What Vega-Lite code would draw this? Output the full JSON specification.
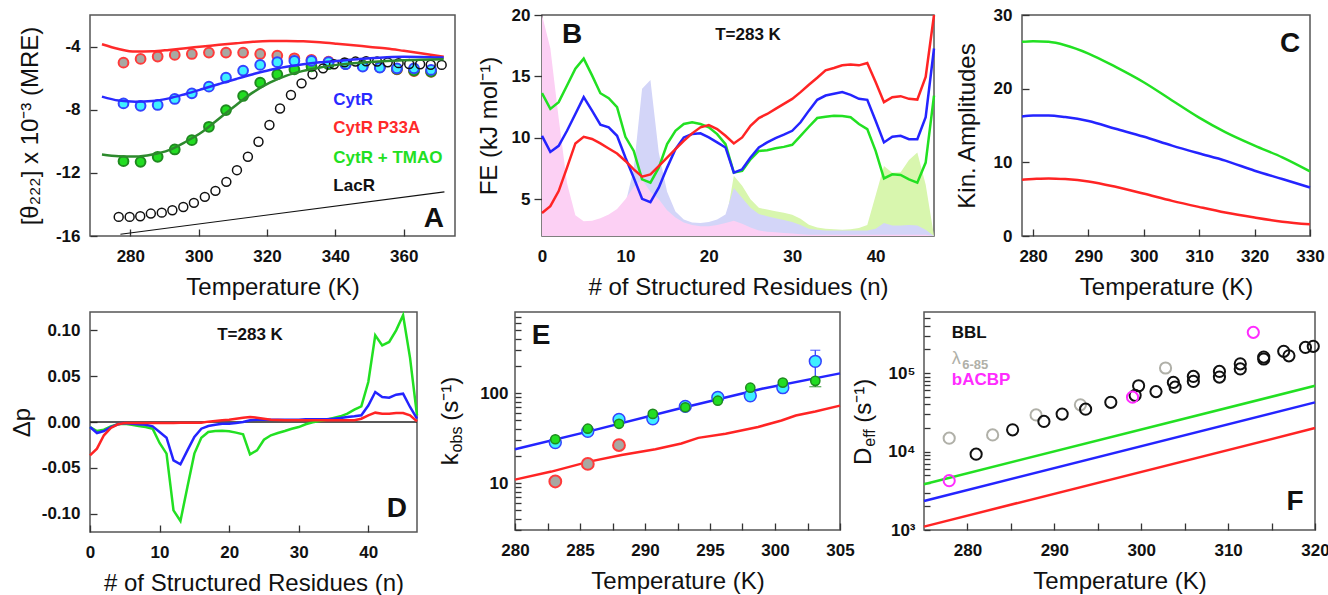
{
"$schema": "https://vega.github.io/schema/vega-lite/v6.json",
"background": "white",
"padding": {"left": 1, "top": 5, "right": 0, "bottom": 0},
"spacing": 7,
"config": {
  "font": "Liberation Sans",
  "view": {"stroke": "#555", "strokeWidth": 1.5},
  "axis": {"domain": false, "grid": false, "labelFont": "Liberation Sans", "labelFontWeight": "bold", "labelFontSize": 17, "labelColor": "#111", "titleFont": "Liberation Sans", "titleFontWeight": "normal", "titleFontSize": 24, "titleColor": "#111", "tickColor": "#333", "tickSize": -7, "tickWidth": 1.3, "labelOverlap": false, "labelFlush": false},
  "axisX": {"labelPadding": 19, "titlePadding": 11},
  "axisY": {"labelPadding": 17, "titlePadding": 10},
  "text": {"font": "Liberation Sans"}
},
"datasets": {
  "txt": [
    {"id":"a1","lab":"CytR","x":339.4,"y":-7.38},{"id":"a2","lab":"CytR P33A","x":339.4,"y":-9.19},{"id":"a3","lab":"CytR + TMAO","x":339.4,"y":-11.04},{"id":"a4","lab":"LacR","x":339.4,"y":-12.83},{"id":"aL","lab":"A","x":368.8,"y":-14.95},{"id":"aAnc","lab":"","x":242.6,"y":-9},
    {"id":"bL","lab":"B","x":3.6,"y":18.4},{"id":"bT","lab":"T=283 K","x":24.7,"y":18.36},
    {"id":"cL","lab":"C","x":326.4,"y":26.1},
    {"id":"dT","lab":"T=283 K","x":23.0,"y":0.0945},{"id":"dL","lab":"D","x":44.1,"y":-0.0953},{"id":"dAnc","lab":"","x":-12.5,"y":0},
    {"id":"eL","lab":"E","x":282.0,"y":437},{"id":"e1","lab":"k","x":275.6,"y":15.8},{"id":"e2","lab":"obs","x":275.92,"y":21.9},{"id":"e3","lab":"(s⁻¹)","x":275.6,"y":49.2},
    {"id":"f1","lab":"BBL","x":278.2,"y":324000},{"id":"f2","lab":"λ","x":278.2,"y":150000},{"id":"f2s","lab":"6-85","x":279.4,"y":128000},{"id":"f3","lab":"bACBP","x":278.2,"y":82200},{"id":"fL","lab":"F","x":317.7,"y":2290},{"id":"f4","lab":"D","x":268.9,"y":6750},{"id":"f5","lab":"eff","x":269.35,"y":11500},{"id":"f6","lab":"(s⁻¹)","x":268.9,"y":23200}
  ],
  "a_pts": [
    {"T":278,"p":-5.02,"c":-7.6,"t":-11.26},{"T":283,"p":-4.78,"c":-7.75,"t":-11.3},{"T":288,"p":-4.63,"c":-7.7,"t":-10.98},{"T":293,"p":-4.53,"c":-7.32,"t":-10.52},{"T":298,"p":-4.47,"c":-6.96,"t":-9.93},{"T":303,"p":-4.38,"c":-6.54,"t":-9.08},{"T":308,"p":-4.38,"c":-5.97,"t":-8.02},{"T":313,"p":-4.38,"c":-5.52,"t":-7.13},{"T":318,"p":-4.47,"c":-5.16,"t":-6.29},{"T":323,"p":-4.57,"c":-4.99,"t":-5.76},{"T":328,"p":-4.74,"c":-4.91,"t":-5.44},{"T":333,"p":-4.85,"c":-4.91,"t":-5.25},{"T":338,"p":-4.95,"c":-4.99,"t":-5.12},{"T":343,"p":-5.1,"c":-5.12,"t":-5.1},{"T":348,"p":-5.2,"c":-5.27,"t":-5.2},{"T":353,"p":-5.3,"c":-5.33,"t":-5.3},{"T":358,"p":-5.45,"c":-5.38,"t":-5.42},{"T":363,"p":-5.55,"c":-5.38,"t":-5.52},{"T":368,"p":-5.6,"c":-5.48,"t":-5.58}
  ],
  "a_lac": [
    {"T":276.6,"v":-14.79},{"T":279.8,"v":-14.79},{"T":282.9,"v":-14.75},{"T":286.0,"v":-14.58},{"T":289.2,"v":-14.52},{"T":292.3,"v":-14.37},{"T":295.5,"v":-14.16},{"T":298.6,"v":-13.9},{"T":301.8,"v":-13.52},{"T":304.9,"v":-13.14},{"T":308.1,"v":-12.57},{"T":311.2,"v":-11.83},{"T":314.4,"v":-10.98},{"T":317.5,"v":-10.03},{"T":320.7,"v":-8.97},{"T":323.8,"v":-7.92},{"T":327.0,"v":-7.07},{"T":330.1,"v":-6.33},{"T":333.3,"v":-5.76},{"T":336.4,"v":-5.38},{"T":339.6,"v":-5.12},{"T":342.7,"v":-5.0},{"T":345.9,"v":-4.95},{"T":349.0,"v":-4.93},{"T":352.2,"v":-4.95},{"T":355.3,"v":-5.0},{"T":358.5,"v":-5.05},{"T":361.6,"v":-5.1},{"T":364.8,"v":-5.12},{"T":367.9,"v":-5.15},{"T":371.1,"v":-5.16}
  ],
  "a_fit": [
    {"T":271.7,"p":-3.85,"c":-7.17,"t":-10.84},{"T":276.6,"p":-4.15,"c":-7.42,"t":-10.95},{"T":281.5,"p":-4.32,"c":-7.49,"t":-10.97},{"T":286.4,"p":-4.3,"c":-7.45,"t":-10.84},{"T":291.3,"p":-4.21,"c":-7.28,"t":-10.56},{"T":296.2,"p":-4.1,"c":-7.0,"t":-10.03},{"T":301.1,"p":-4.0,"c":-6.69,"t":-9.4},{"T":306,"p":-3.89,"c":-6.37,"t":-8.55},{"T":311,"p":-3.79,"c":-6.05,"t":-7.7},{"T":315.9,"p":-3.7,"c":-5.75,"t":-6.9},{"T":320.8,"p":-3.65,"c":-5.48,"t":-6.29},{"T":325.7,"p":-3.64,"c":-5.28,"t":-5.84},{"T":330.6,"p":-3.67,"c":-5.12,"t":-5.54},{"T":335.5,"p":-3.73,"c":-5.0,"t":-5.33},{"T":340.4,"p":-3.82,"c":-4.91,"t":-5.16},{"T":345.3,"p":-3.92,"c":-4.82,"t":-5.05},{"T":350.2,"p":-4.02,"c":-4.74,"t":-4.97},{"T":355.1,"p":-4.12,"c":-4.68,"t":-4.91},{"T":360,"p":-4.27,"c":-4.65,"t":-4.87},{"T":365,"p":-4.43,"c":-4.66,"t":-4.84},{"T":371.7,"p":-4.65,"c":-4.7,"t":-4.8}
  ],
  "a_base": [{"T":277.1,"v":-15.89},{"T":371.9,"v":-13.2}],
  "b": [
    {"n":0,"r":3.88,"b":10.16,"g":13.63,"pk":20,"lv":2.5,"ga":2.1},
    {"n":1,"r":4.43,"b":8.85,"g":12.35,"pk":17.3,"lv":2.5,"ga":2.1},
    {"n":2,"r":5.66,"b":9.34,"g":12.9,"pk":11.6,"lv":2.5,"ga":2.1},
    {"n":3,"r":7.57,"b":10.57,"g":14.26,"pk":6.3,"lv":2.5,"ga":2.1},
    {"n":4,"r":9.54,"b":11.94,"g":15.63,"pk":3.7,"lv":2.5,"ga":2.1},
    {"n":5,"r":10.08,"b":13.31,"g":16.45,"pk":3.2,"lv":2.5,"ga":2.1},
    {"n":6,"r":9.9,"b":12.21,"g":15.08,"pk":3.25,"lv":2.5,"ga":2.1},
    {"n":7,"r":9.54,"b":11.07,"g":13.63,"pk":3.45,"lv":2.5,"ga":2.1},
    {"n":8,"r":9.13,"b":10.85,"g":13.22,"pk":3.75,"lv":2.5,"ga":2.1},
    {"n":9,"r":8.72,"b":10.16,"g":12.49,"pk":4.2,"lv":3.0,"ga":2.1},
    {"n":10,"r":8.11,"b":8.39,"g":10.08,"pk":5.0,"lv":4.6,"ga":2.1},
    {"n":11,"r":7.43,"b":6.75,"g":8.93,"pk":6.0,"lv":7.5,"ga":2.1},
    {"n":12,"r":6.83,"b":5.03,"g":6.61,"pk":6.6,"lv":14.0,"ga":2.1},
    {"n":13,"r":7.02,"b":4.75,"g":6.34,"pk":5.6,"lv":14.7,"ga":2.1},
    {"n":14,"r":7.7,"b":5.93,"g":7.57,"pk":5.0,"lv":8.8,"ga":2.1},
    {"n":15,"r":8.39,"b":7.57,"g":9.48,"pk":4.1,"lv":5.6,"ga":2.1},
    {"n":16,"r":9.07,"b":9.07,"g":10.57,"pk":3.5,"lv":4.0,"ga":2.1},
    {"n":17,"r":9.75,"b":10.03,"g":11.12,"pk":3.1,"lv":3.35,"ga":2.1},
    {"n":18,"r":10.36,"b":10.3,"g":11.26,"pk":2.9,"lv":3.1,"ga":2.1},
    {"n":19,"r":10.85,"b":10.36,"g":11.12,"pk":2.8,"lv":3.05,"ga":2.1},
    {"n":20,"r":11.04,"b":10.03,"g":10.85,"pk":2.8,"lv":3.15,"ga":2.1},
    {"n":21,"r":10.71,"b":9.62,"g":10.3,"pk":2.9,"lv":3.35,"ga":2.1},
    {"n":22,"r":10.16,"b":9.21,"g":9.48,"pk":3.05,"lv":3.75,"ga":3.0},
    {"n":23,"r":9.54,"b":7.16,"g":7.16,"pk":3.25,"lv":5.9,"ga":6.9},
    {"n":24,"r":10.03,"b":7.43,"g":7.3,"pk":3.0,"lv":5.1,"ga":6.1},
    {"n":25,"r":10.98,"b":8.39,"g":8.25,"pk":2.7,"lv":4.3,"ga":5.0},
    {"n":26,"r":11.61,"b":9.21,"g":8.93,"pk":2.45,"lv":3.8,"ga":4.3},
    {"n":27,"r":11.94,"b":9.62,"g":8.99,"pk":2.35,"lv":3.6,"ga":4.15},
    {"n":28,"r":12.35,"b":9.97,"g":9.15,"pk":2.3,"lv":3.45,"ga":4.02},
    {"n":29,"r":12.76,"b":10.25,"g":9.26,"pk":2.25,"lv":3.3,"ga":3.9},
    {"n":30,"r":13.17,"b":10.57,"g":9.43,"pk":2.2,"lv":3.15,"ga":3.74},
    {"n":31,"r":13.72,"b":11.26,"g":10.16,"pk":2.15,"lv":2.9,"ga":3.4},
    {"n":32,"r":14.32,"b":12.21,"g":10.9,"pk":2.1,"lv":2.6,"ga":2.92},
    {"n":33,"r":14.89,"b":13.09,"g":11.61,"pk":2.1,"lv":2.5,"ga":2.7},
    {"n":34,"r":15.49,"b":13.44,"g":11.72,"pk":2.1,"lv":2.45,"ga":2.6},
    {"n":35,"r":15.68,"b":13.58,"g":11.8,"pk":2.1,"lv":2.45,"ga":2.55},
    {"n":36,"r":15.9,"b":13.72,"g":11.78,"pk":2.1,"lv":2.45,"ga":2.5},
    {"n":37,"r":15.96,"b":13.5,"g":11.67,"pk":2.1,"lv":2.45,"ga":2.55},
    {"n":38,"r":15.9,"b":13.17,"g":11.12,"pk":2.1,"lv":2.45,"ga":2.65},
    {"n":39,"r":16.09,"b":13.09,"g":10.71,"pk":2.1,"lv":2.45,"ga":2.9},
    {"n":40,"r":14.54,"b":11.39,"g":8.93,"pk":2.1,"lv":2.6,"ga":5.3},
    {"n":41,"r":12.9,"b":9.62,"g":6.69,"pk":2.1,"lv":3.05,"ga":7.7},
    {"n":42,"r":13.31,"b":10.08,"g":7.02,"pk":2.1,"lv":2.85,"ga":7.16},
    {"n":43,"r":13.39,"b":10.16,"g":6.97,"pk":2.1,"lv":2.85,"ga":7.2},
    {"n":44,"r":13.17,"b":9.89,"g":6.61,"pk":2.1,"lv":2.9,"ga":8.2},
    {"n":45,"r":13.11,"b":9.89,"g":6.34,"pk":2.1,"lv":2.85,"ga":8.8},
    {"n":46,"r":14.95,"b":11.67,"g":7.98,"pk":2.1,"lv":2.5,"ga":6.2},
    {"n":47,"r":20.0,"b":17.27,"g":13.44,"pk":2.0,"lv":2.0,"ga":2.0}
  ],
  "c": [
    {"T":278,"g":26.36,"b":16.23,"r":7.64},{"T":280,"g":26.45,"b":16.36,"r":7.73},{"T":282.8,"g":26.36,"b":16.36,"r":7.82},{"T":285.8,"g":25.9,"b":16.14,"r":7.73},{"T":290,"g":24.77,"b":15.6,"r":7.41},{"T":294.9,"g":22.95,"b":14.55,"r":6.68},{"T":299.9,"g":20.9,"b":13.5,"r":5.77},{"T":305.1,"g":18.4,"b":12.27,"r":4.77},{"T":309.9,"g":16.1,"b":11.23,"r":3.95},{"T":314.7,"g":14.1,"b":10.23,"r":3.18},{"T":320,"g":12.27,"b":8.86,"r":2.5},{"T":325,"g":10.68,"b":7.73,"r":1.95},{"T":330,"g":8.77,"b":6.59,"r":1.59}
  ],
  "d": [
    {"n":0,"r":-0.0364,"b":-0.0055,"g":-0.0055},{"n":1,"r":-0.0291,"b":-0.012,"g":-0.0098},{"n":2,"r":-0.0145,"b":-0.0098,"g":-0.0084},{"n":3,"r":-0.0065,"b":-0.0055,"g":-0.0047},{"n":4,"r":-0.0025,"b":-0.0025,"g":-0.0025},{"n":5,"r":-0.0011,"b":-0.0011,"g":-0.0018},{"n":6,"r":-0.0011,"b":-0.0018,"g":-0.003},{"n":7,"r":-0.0011,"b":-0.0025,"g":-0.0044},{"n":8,"r":-0.0011,"b":-0.003,"g":-0.0055},{"n":9,"r":-0.0011,"b":-0.0047,"g":-0.0073},
    {"n":10,"r":-0.0011,"b":-0.0109,"g":-0.0229},{"n":11,"r":-0.0011,"b":-0.0171,"g":-0.0345},{"n":12,"r":-0.0011,"b":-0.0418,"g":-0.0964},{"n":13,"r":-0.0007,"b":-0.0462,"g":-0.108},{"n":14,"r":-0.0007,"b":-0.0309,"g":-0.0709},{"n":15,"r":-0.0007,"b":-0.0164,"g":-0.0345},{"n":16,"r":-0.0007,"b":-0.0073,"g":-0.0171},{"n":17,"r":0.0004,"b":-0.0044,"g":-0.0109},{"n":18,"r":0.0011,"b":-0.003,"g":-0.0098},{"n":19,"r":0.0018,"b":-0.0018,"g":-0.0095},
    {"n":20,"r":0.0025,"b":-0.0018,"g":-0.0102},{"n":21,"r":0.0036,"b":-0.0011,"g":-0.0116},{"n":22,"r":0.0047,"b":0.0,"g":-0.0135},{"n":23,"r":0.0055,"b":0.0018,"g":-0.0353},{"n":24,"r":0.0047,"b":0.0025,"g":-0.0309},{"n":25,"r":0.0036,"b":0.0025,"g":-0.0193},{"n":26,"r":0.0025,"b":0.0025,"g":-0.0145},{"n":27,"r":0.0022,"b":0.0025,"g":-0.012},{"n":28,"r":0.002,"b":0.0025,"g":-0.0098},{"n":29,"r":0.002,"b":0.0025,"g":-0.0073},
    {"n":30,"r":0.002,"b":0.0025,"g":-0.0055},{"n":31,"r":0.002,"b":0.003,"g":-0.0025},{"n":32,"r":0.002,"b":0.003,"g":-0.0004},{"n":33,"r":0.002,"b":0.003,"g":0.0011},{"n":34,"r":0.002,"b":0.003,"g":0.0025},{"n":35,"r":0.002,"b":0.0036,"g":0.0044},{"n":36,"r":0.002,"b":0.0044,"g":0.0062},{"n":37,"r":0.002,"b":0.0055,"g":0.0091},{"n":38,"r":0.002,"b":0.0062,"g":0.0135},{"n":39,"r":0.0036,"b":0.0073,"g":0.0171},
    {"n":40,"r":0.0073,"b":0.018,"g":0.0436},{"n":41,"r":0.0102,"b":0.0327,"g":0.0945},{"n":42,"r":0.0091,"b":0.0273,"g":0.0836},{"n":43,"r":0.0091,"b":0.0265,"g":0.0873},{"n":44,"r":0.0098,"b":0.0298,"g":0.1},{"n":45,"r":0.0098,"b":0.0309,"g":0.1164},{"n":46,"r":0.0073,"b":0.0164,"g":0.07},{"n":47,"r":0.0007,"b":0.0036,"g":0.0073}
  ],
  "e_line": [
    {"s":"b","T":280,"v":23.8},{"s":"b","T":286,"v":38.5},{"s":"b","T":292.5,"v":66.7},{"s":"b","T":299,"v":112},{"s":"b","T":305,"v":166},
    {"s":"r","T":280,"v":10.9},{"s":"r","T":282.8,"v":13.4},{"s":"r","T":285.7,"v":17.3},{"s":"r","T":288.2,"v":20.5},{"s":"r","T":290.8,"v":23.8},{"s":"r","T":292.8,"v":27.5},{"s":"r","T":294.1,"v":31.8},{"s":"r","T":296.2,"v":35.4},{"s":"r","T":298.7,"v":42},{"s":"r","T":300.5,"v":49.7},{"s":"r","T":301.6,"v":56.4},{"s":"r","T":303.1,"v":62.4},{"s":"r","T":305,"v":72.6}
  ],
  "e_pts": [
    {"s":"g","T":283.1,"v":10.4},{"s":"g","T":285.6,"v":16.3},{"s":"g","T":288.0,"v":26.4},
    {"s":"c","T":283.1,"v":28.2},{"s":"c","T":285.6,"v":37.6},{"s":"c","T":288.0,"v":50.9},{"s":"c","T":290.6,"v":51.8},{"s":"c","T":293.1,"v":71.3},{"s":"c","T":295.6,"v":89.6},{"s":"c","T":298.1,"v":93.6},{"s":"c","T":300.6,"v":115},{"s":"c","T":303.1,"v":226},
    {"s":"t","T":283.1,"v":30.7},{"s":"t","T":285.6,"v":40.2},{"s":"t","T":288.0,"v":45.6},{"s":"t","T":290.6,"v":58.8},{"s":"t","T":293.1,"v":69.7},{"s":"t","T":295.6,"v":82.4},{"s":"t","T":298.1,"v":115},{"s":"t","T":300.6,"v":131},{"s":"t","T":303.1,"v":137}
  ],
  "e_err": [
    {"s":"c","T":303.1,"lo":155,"hi":300},
    {"s":"t","T":303.1,"lo":118,"hi":145}
  ],
  "f_line": [
    {"T":275,"g":3830,"b":2344,"r":1105},{"T":320,"g":68900,"b":42300,"r":19900}
  ],
  "f_pts": [
    {"s":"bbl","T":281.0,"v":9250},{"s":"bbl","T":285.2,"v":18900},{"s":"bbl","T":288.8,"v":24200},{"s":"bbl","T":290.9,"v":30000},{"s":"bbl","T":293.6,"v":34700},{"s":"bbl","T":296.5,"v":42400},{"s":"bbl","T":299.3,"v":52000},{"s":"bbl","T":299.7,"v":68900},{"s":"bbl","T":301.7,"v":58000},{"s":"bbl","T":303.7,"v":75900},{"s":"bbl","T":303.9,"v":66100},{"s":"bbl","T":306.0,"v":90600},{"s":"bbl","T":306.0,"v":78200},{"s":"bbl","T":309.0,"v":105000},{"s":"bbl","T":309.0,"v":88800},{"s":"bbl","T":311.4,"v":131000},{"s":"bbl","T":311.4,"v":113000},{"s":"bbl","T":314.1,"v":151000},{"s":"bbl","T":314.1,"v":160000},{"s":"bbl","T":316.4,"v":189000},{"s":"bbl","T":317.0,"v":166000},{"s":"bbl","T":318.9,"v":212000},{"s":"bbl","T":319.8,"v":219000},
    {"s":"lam","T":277.9,"v":14800},{"s":"lam","T":282.9,"v":16300},{"s":"lam","T":287.9,"v":29300},{"s":"lam","T":293.0,"v":39400},{"s":"lam","T":302.8,"v":116000},
    {"s":"acbp","T":277.9,"v":4250},{"s":"acbp","T":299.0,"v":49300},{"s":"acbp","T":312.9,"v":330000}
  ]
},
"vconcat": [
{
  "bounds": "flush",
  "spacing": 0,
  "hconcat": [
  {
    "width": 365, "height": 221,
    "encoding": {
      "x": {"field": "T", "type": "quantitative", "scale": {"domain": [268.2, 375], "nice": false, "zero": false}, "axis": {"values": [280,300,320,340,360], "title": "Temperature (K)"}},
      "y": {"field": "v", "type": "quantitative", "scale": {"domain": [-16, -2], "nice": false, "zero": false}, "axis": {"values": [-16,-12,-8,-4], "title": "[θ₂₂₂] x 10⁻³ (MRE)", "titlePadding": 13, "labelExpr": "replace(datum.label, '−', '-')"}}
    },
    "layer": [
      {"data": {"name": "a_base"}, "mark": {"type": "line", "color": "#111", "strokeWidth": 1.2}},
      {"data": {"name": "a_pts"}, "mark": {"type": "circle", "size": 95, "fill": "#a8a8a2", "stroke": "#ff3b3b", "strokeWidth": 2, "opacity": 1}, "encoding": {"y": {"field": "p", "type": "quantitative"}}},
      {"data": {"name": "a_pts"}, "mark": {"type": "circle", "size": 95, "fill": "#22dd22", "stroke": "#1f8a1f", "strokeWidth": 2, "opacity": 1}, "encoding": {"y": {"field": "t", "type": "quantitative"}}},
      {"data": {"name": "a_pts"}, "mark": {"type": "circle", "size": 95, "fill": "#3ff0ff", "stroke": "#3344ff", "strokeWidth": 2, "opacity": 1}, "encoding": {"y": {"field": "c", "type": "quantitative"}}},
      {"data": {"name": "a_lac"}, "mark": {"type": "point", "shape": "circle", "filled": false, "size": 80, "stroke": "#111", "strokeWidth": 1.5, "opacity": 1}},
      {"data": {"name": "a_fit"}, "mark": {"type": "line", "color": "#ff2a2a", "strokeWidth": 2.5, "interpolate": "monotone"}, "encoding": {"y": {"field": "p", "type": "quantitative"}}},
      {"data": {"name": "a_fit"}, "mark": {"type": "line", "color": "#2a2aff", "strokeWidth": 2.5, "interpolate": "monotone"}, "encoding": {"y": {"field": "c", "type": "quantitative"}}},
      {"data": {"name": "a_fit"}, "mark": {"type": "line", "color": "#2d8a2d", "strokeWidth": 2.5, "interpolate": "monotone"}, "encoding": {"y": {"field": "t", "type": "quantitative"}}},
      {"data": {"name": "txt"}, "transform": [{"filter": "datum.id == 'a1'"}], "mark": {"type": "text", "fontSize": 17, "fontWeight": "bold", "color": "#2a2aff", "align": "left"}, "encoding": {"x": {"field": "x", "type": "quantitative"}, "y": {"field": "y", "type": "quantitative"}, "text": {"field": "lab"}}},
      {"data": {"name": "txt"}, "transform": [{"filter": "datum.id == 'a2'"}], "mark": {"type": "text", "fontSize": 17, "fontWeight": "bold", "color": "#ff2a2a", "align": "left"}, "encoding": {"x": {"field": "x", "type": "quantitative"}, "y": {"field": "y", "type": "quantitative"}, "text": {"field": "lab"}}},
      {"data": {"name": "txt"}, "transform": [{"filter": "datum.id == 'a3'"}], "mark": {"type": "text", "fontSize": 17, "fontWeight": "bold", "color": "#22e022", "align": "left"}, "encoding": {"x": {"field": "x", "type": "quantitative"}, "y": {"field": "y", "type": "quantitative"}, "text": {"field": "lab"}}},
      {"data": {"name": "txt"}, "transform": [{"filter": "datum.id == 'a4'"}], "mark": {"type": "text", "fontSize": 17, "fontWeight": "bold", "color": "#111", "align": "left"}, "encoding": {"x": {"field": "x", "type": "quantitative"}, "y": {"field": "y", "type": "quantitative"}, "text": {"field": "lab"}}},
      {"data": {"name": "txt"}, "transform": [{"filter": "datum.id == 'aL'"}], "mark": {"type": "text", "fontSize": 28, "fontWeight": "bold", "color": "#111", "align": "center"}, "encoding": {"x": {"field": "x", "type": "quantitative"}, "y": {"field": "y", "type": "quantitative"}, "text": {"field": "lab"}}},
      {"data": {"name": "txt"}, "transform": [{"filter": "datum.id == 'aAnc'"}], "mark": {"type": "point", "size": 1, "opacity": 0}, "encoding": {"x": {"field": "x", "type": "quantitative"}, "y": {"field": "y", "type": "quantitative"}}}
    ]
  },
  {"width": 87, "height": 10, "data": {"values": [{"k": 0}]}, "mark": {"type": "point", "opacity": 0}, "encoding": {}, "view": {"stroke": null}},
  {
    "width": 392, "height": 221,
    "data": {"name": "b"},
    "encoding": {
      "x": {"field": "n", "type": "quantitative", "scale": {"domain": [0, 47], "nice": false, "zero": false}, "axis": {"values": [0,10,20,30,40], "title": "# of Structured Residues (n)", "ticks": false, "labelPadding": 12}},
      "y": {"field": "r", "type": "quantitative", "scale": {"domain": [2, 20], "nice": false, "zero": false}, "axis": {"values": [5,10,15,20], "title": "FE (kJ mol⁻¹)", "tickSize": 8, "labelPadding": 4}}
    },
    "layer": [
      {"mark": {"type": "area", "color": "#d8f6ae", "opacity": 1}, "encoding": {"y": {"field": "ga", "type": "quantitative"}, "y2": {"datum": 2}}},
      {"mark": {"type": "area", "color": "#d3d5f8", "opacity": 1}, "encoding": {"y": {"field": "lv", "type": "quantitative"}, "y2": {"datum": 2}}},
      {"mark": {"type": "area", "color": "#fcd0f4", "opacity": 1}, "encoding": {"y": {"field": "pk", "type": "quantitative"}, "y2": {"datum": 2}}},
      {"mark": {"type": "line", "color": "#22e022", "strokeWidth": 2.5}, "encoding": {"y": {"field": "g", "type": "quantitative"}}},
      {"mark": {"type": "line", "color": "#2424ff", "strokeWidth": 2.5}, "encoding": {"y": {"field": "b", "type": "quantitative"}}},
      {"mark": {"type": "line", "color": "#ff2424", "strokeWidth": 2.5}},
      {"data": {"name": "txt"}, "transform": [{"filter": "datum.id == 'bL'"}], "mark": {"type": "text", "fontSize": 28, "fontWeight": "bold", "color": "#111", "align": "center"}, "encoding": {"x": {"field": "x", "type": "quantitative"}, "y": {"field": "y", "type": "quantitative"}, "text": {"field": "lab"}}},
      {"data": {"name": "txt"}, "transform": [{"filter": "datum.id == 'bT'"}], "mark": {"type": "text", "fontSize": 17, "fontWeight": "bold", "color": "#111", "align": "center"}, "encoding": {"x": {"field": "x", "type": "quantitative"}, "y": {"field": "y", "type": "quantitative"}, "text": {"field": "lab"}}}
    ]
  },
  {"width": 88, "height": 10, "data": {"values": [{"k": 0}]}, "mark": {"type": "point", "opacity": 0}, "encoding": {}, "view": {"stroke": null}},
  {
    "width": 288, "height": 221,
    "data": {"name": "c"},
    "encoding": {
      "x": {"field": "T", "type": "quantitative", "scale": {"domain": [278, 330], "nice": false, "zero": false}, "axis": {"values": [280,290,300,310,320,330], "title": "Temperature (K)"}},
      "y": {"field": "g", "type": "quantitative", "scale": {"domain": [0, 30], "nice": false}, "axis": {"values": [0,10,20,30], "title": "Kin. Amplitudes", "titlePadding": 14}}
    },
    "layer": [
      {"mark": {"type": "line", "color": "#22e022", "strokeWidth": 2.5, "interpolate": "monotone"}},
      {"mark": {"type": "line", "color": "#2424ff", "strokeWidth": 2.5, "interpolate": "monotone"}, "encoding": {"y": {"field": "b", "type": "quantitative"}}},
      {"mark": {"type": "line", "color": "#ff2424", "strokeWidth": 2.5, "interpolate": "monotone"}, "encoding": {"y": {"field": "r", "type": "quantitative"}}},
      {"data": {"name": "txt"}, "transform": [{"filter": "datum.id == 'cL'"}], "mark": {"type": "text", "fontSize": 28, "fontWeight": "bold", "color": "#111", "align": "center"}, "encoding": {"x": {"field": "x", "type": "quantitative"}, "y": {"field": "y", "type": "quantitative"}, "text": {"field": "lab"}}}
    ]
  }
  ]
},
{
  "bounds": "flush",
  "spacing": 0,
  "hconcat": [
  {
    "width": 327, "height": 220,
    "data": {"name": "d"},
    "encoding": {
      "x": {"field": "n", "type": "quantitative", "scale": {"domain": [0, 47], "nice": false, "zero": false}, "axis": {"values": [0,10,20,30,40], "title": "# of Structured Residues (n)"}},
      "y": {"field": "g", "type": "quantitative", "scale": {"domain": [-0.12, 0.12], "nice": false, "zero": false}, "axis": {"values": [-0.1,-0.05,0,0.05,0.1], "format": ".2f", "labelExpr": "replace(datum.label, '−', '-')", "title": "Δp", "titlePadding": 7}}
    },
    "layer": [
      {"data": {"name": "txt"}, "transform": [{"filter": "datum.id == 'dAnc'"}], "mark": {"type": "rule", "color": "#222", "strokeWidth": 1.3}, "encoding": {"x": null, "y": {"field": "y", "type": "quantitative"}}},
      {"mark": {"type": "line", "color": "#22e022", "strokeWidth": 2.5}},
      {"mark": {"type": "line", "color": "#2424ff", "strokeWidth": 2.5}, "encoding": {"y": {"field": "b", "type": "quantitative"}}},
      {"mark": {"type": "line", "color": "#ff2424", "strokeWidth": 2.5}, "encoding": {"y": {"field": "r", "type": "quantitative"}}},
      {"data": {"name": "txt"}, "transform": [{"filter": "datum.id == 'dT'"}], "mark": {"type": "text", "fontSize": 17, "fontWeight": "bold", "color": "#111", "align": "center"}, "encoding": {"x": {"field": "x", "type": "quantitative"}, "y": {"field": "y", "type": "quantitative"}, "text": {"field": "lab"}}},
      {"data": {"name": "txt"}, "transform": [{"filter": "datum.id == 'dL'"}], "mark": {"type": "text", "fontSize": 28, "fontWeight": "bold", "color": "#111", "align": "center"}, "encoding": {"x": {"field": "x", "type": "quantitative"}, "y": {"field": "y", "type": "quantitative"}, "text": {"field": "lab"}}},
      {"data": {"name": "txt"}, "transform": [{"filter": "datum.id == 'dAnc'"}], "mark": {"type": "point", "size": 1, "opacity": 0}, "encoding": {"x": {"field": "x", "type": "quantitative"}, "y": {"field": "y", "type": "quantitative"}}}
    ]
  },
  {"width": 98, "height": 10, "data": {"values": [{"k": 0}]}, "mark": {"type": "point", "opacity": 0}, "encoding": {}, "view": {"stroke": null}},
  {
    "width": 325, "height": 218,
    "encoding": {
      "x": {"field": "T", "type": "quantitative", "scale": {"domain": [280, 305], "nice": false, "zero": false}, "axis": {"values": [280,282.5,285,287.5,290,292.5,295,297.5,300,302.5,305], "labelExpr": "datum.value % 5 == 0 ? datum.label : ''", "title": "Temperature (K)"}},
      "y": {"field": "v", "type": "quantitative", "scale": {"type": "log", "domain": [3, 800], "nice": false}, "axis": {"values": [3,4,5,6,7,8,9,10,20,30,40,50,60,70,80,90,100,200,300,400,500,600,700], "labelExpr": "datum.value == 10 ? '10' : datum.value == 100 ? '100' : ''", "title": null, "tickSize": -6, "labelPadding": 13}}
    },
    "layer": [
      {"data": {"name": "e_line"}, "transform": [{"filter": "datum.s == 'b'"}], "mark": {"type": "line", "color": "#2424ff", "strokeWidth": 2.5}},
      {"data": {"name": "e_line"}, "transform": [{"filter": "datum.s == 'r'"}], "mark": {"type": "line", "color": "#ff2424", "strokeWidth": 2.5}},
      {"data": {"name": "e_err"}, "transform": [{"filter": "datum.s == 'c'"}], "mark": {"type": "rule", "color": "#3344ff", "strokeWidth": 1.3}, "encoding": {"y": {"field": "lo", "type": "quantitative"}, "y2": {"field": "hi"}}},
      {"data": {"name": "e_err"}, "transform": [{"filter": "datum.s == 'c'"}], "mark": {"type": "tick", "orient": "horizontal", "color": "#3344ff", "size": 10, "thickness": 1.3}, "encoding": {"y": {"field": "hi", "type": "quantitative"}}},
      {"data": {"name": "e_pts"}, "transform": [{"filter": "datum.s == 'g'"}], "mark": {"type": "circle", "size": 140, "fill": "#a8a8a2", "stroke": "#ff3b3b", "strokeWidth": 2, "opacity": 1}},
      {"data": {"name": "e_pts"}, "transform": [{"filter": "datum.s == 'c'"}], "mark": {"type": "circle", "size": 140, "fill": "#3ff0ff", "stroke": "#3344ff", "strokeWidth": 1.5, "opacity": 1}},
      {"data": {"name": "e_err"}, "transform": [{"filter": "datum.s == 't'"}], "mark": {"type": "rule", "color": "#1f8a1f", "strokeWidth": 1.3}, "encoding": {"y": {"field": "lo", "type": "quantitative"}, "y2": {"field": "hi"}}},
      {"data": {"name": "e_err"}, "transform": [{"filter": "datum.s == 't'"}], "mark": {"type": "tick", "orient": "horizontal", "color": "#1f8a1f", "size": 12, "thickness": 1.3}, "encoding": {"y": {"field": "lo", "type": "quantitative"}}},
      {"data": {"name": "e_pts"}, "transform": [{"filter": "datum.s == 't'"}], "mark": {"type": "circle", "size": 85, "fill": "#22dd22", "stroke": "#1f8a1f", "strokeWidth": 1.5, "opacity": 1}},
      {"data": {"name": "txt"}, "transform": [{"filter": "datum.id == 'eL'"}], "mark": {"type": "text", "fontSize": 28, "fontWeight": "bold", "color": "#111", "align": "center"}, "encoding": {"x": {"field": "x", "type": "quantitative"}, "y": {"field": "y", "type": "quantitative"}, "text": {"field": "lab"}}},
      {"data": {"name": "txt"}, "transform": [{"filter": "datum.id == 'e1' || datum.id == 'e3'"}], "mark": {"type": "text", "fontSize": 24, "color": "#111", "align": "left", "baseline": "alphabetic", "angle": 270}, "encoding": {"x": {"field": "x", "type": "quantitative"}, "y": {"field": "y", "type": "quantitative"}, "text": {"field": "lab"}}},
      {"data": {"name": "txt"}, "transform": [{"filter": "datum.id == 'e2'"}], "mark": {"type": "text", "fontSize": 16, "color": "#111", "align": "left", "baseline": "alphabetic", "angle": 270}, "encoding": {"x": {"field": "x", "type": "quantitative"}, "y": {"field": "y", "type": "quantitative"}, "text": {"field": "lab"}}}
    ]
  },
  {"width": 84, "height": 10, "data": {"values": [{"k": 0}]}, "mark": {"type": "point", "opacity": 0}, "encoding": {}, "view": {"stroke": null}},
  {
    "width": 391, "height": 218,
    "encoding": {
      "x": {"field": "T", "type": "quantitative", "scale": {"domain": [275, 320], "nice": false, "zero": false}, "axis": {"values": [280,285,290,295,300,305,310,315,320], "labelExpr": "datum.value % 10 == 0 ? datum.label : ''", "title": "Temperature (K)"}},
      "y": {"field": "v", "type": "quantitative", "scale": {"type": "log", "domain": [1000, 600000], "nice": false}, "axis": {"values": [1000,2000,3000,4000,5000,6000,7000,8000,9000,10000,20000,30000,40000,50000,60000,70000,80000,90000,100000,200000,300000,400000,500000], "labelExpr": "datum.value == 1000 ? '10³' : datum.value == 10000 ? '10⁴' : datum.value == 100000 ? '10⁵' : ''", "title": null, "tickSize": -6, "labelPadding": 15}}
    },
    "layer": [
      {"data": {"name": "f_line"}, "mark": {"type": "line", "color": "#22e022", "strokeWidth": 2.5}, "encoding": {"y": {"field": "g", "type": "quantitative"}}},
      {"data": {"name": "f_line"}, "mark": {"type": "line", "color": "#2424ff", "strokeWidth": 2.5}, "encoding": {"y": {"field": "b", "type": "quantitative"}}},
      {"data": {"name": "f_line"}, "mark": {"type": "line", "color": "#ff2424", "strokeWidth": 2.5}, "encoding": {"y": {"field": "r", "type": "quantitative"}}},
      {"data": {"name": "f_pts"}, "transform": [{"filter": "datum.s == 'lam'"}], "mark": {"type": "point", "shape": "circle", "filled": false, "size": 125, "stroke": "#b0b0a8", "strokeWidth": 2, "opacity": 1}},
      {"data": {"name": "f_pts"}, "transform": [{"filter": "datum.s == 'bbl'"}], "mark": {"type": "point", "shape": "circle", "filled": false, "size": 125, "stroke": "#111", "strokeWidth": 2, "opacity": 1}},
      {"data": {"name": "f_pts"}, "transform": [{"filter": "datum.s == 'acbp'"}], "mark": {"type": "point", "shape": "circle", "filled": false, "size": 125, "stroke": "#ff2cff", "strokeWidth": 2, "opacity": 1}},
      {"data": {"name": "txt"}, "transform": [{"filter": "datum.id == 'f1'"}], "mark": {"type": "text", "fontSize": 17, "fontWeight": "bold", "color": "#111", "align": "left"}, "encoding": {"x": {"field": "x", "type": "quantitative"}, "y": {"field": "y", "type": "quantitative"}, "text": {"field": "lab"}}},
      {"data": {"name": "txt"}, "transform": [{"filter": "datum.id == 'f2'"}], "mark": {"type": "text", "fontSize": 18, "color": "#b0b0a8", "align": "left"}, "encoding": {"x": {"field": "x", "type": "quantitative"}, "y": {"field": "y", "type": "quantitative"}, "text": {"field": "lab"}}},
      {"data": {"name": "txt"}, "transform": [{"filter": "datum.id == 'f2s'"}], "mark": {"type": "text", "fontSize": 13, "fontWeight": "bold", "color": "#b0b0a8", "align": "left"}, "encoding": {"x": {"field": "x", "type": "quantitative"}, "y": {"field": "y", "type": "quantitative"}, "text": {"field": "lab"}}},
      {"data": {"name": "txt"}, "transform": [{"filter": "datum.id == 'f3'"}], "mark": {"type": "text", "fontSize": 17, "fontWeight": "bold", "color": "#ff2cff", "align": "left"}, "encoding": {"x": {"field": "x", "type": "quantitative"}, "y": {"field": "y", "type": "quantitative"}, "text": {"field": "lab"}}},
      {"data": {"name": "txt"}, "transform": [{"filter": "datum.id == 'fL'"}], "mark": {"type": "text", "fontSize": 28, "fontWeight": "bold", "color": "#111", "align": "center"}, "encoding": {"x": {"field": "x", "type": "quantitative"}, "y": {"field": "y", "type": "quantitative"}, "text": {"field": "lab"}}},
      {"data": {"name": "txt"}, "transform": [{"filter": "datum.id == 'f4' || datum.id == 'f6'"}], "mark": {"type": "text", "fontSize": 24, "color": "#111", "align": "left", "baseline": "alphabetic", "angle": 270}, "encoding": {"x": {"field": "x", "type": "quantitative"}, "y": {"field": "y", "type": "quantitative"}, "text": {"field": "lab"}}},
      {"data": {"name": "txt"}, "transform": [{"filter": "datum.id == 'f5'"}], "mark": {"type": "text", "fontSize": 16, "color": "#111", "align": "left", "baseline": "alphabetic", "angle": 270}, "encoding": {"x": {"field": "x", "type": "quantitative"}, "y": {"field": "y", "type": "quantitative"}, "text": {"field": "lab"}}}
    ]
  }
  ]
}
]
}
